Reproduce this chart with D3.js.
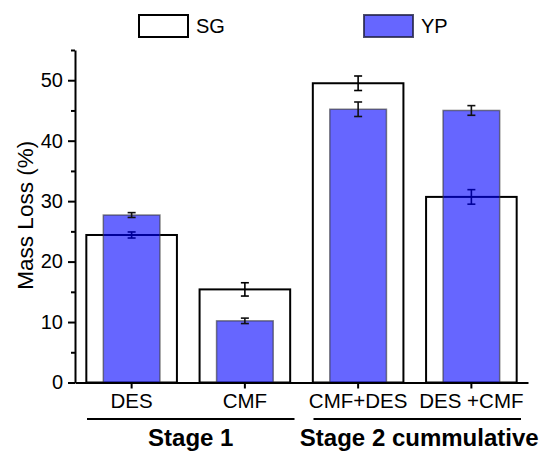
<!DOCTYPE html>
<html>
<head>
<meta charset="utf-8">
<script src="https://cdn.jsdelivr.net/npm/d3@7"></script>
<style>
  body { margin: 0; background: #fff; }
  text { font-family: "Liberation Sans", Arial, sans-serif; }
</style>
</head>
<body>
<svg id="chart" width="540" height="451"></svg>
<script>
// Values
const categories = ["DES", "CMF", "CMF+DES", "DES +CMF"];
const sgValues = [24.4, 15.4, 49.5, 30.7];
const sgErrors = [0.5, 1.1, 1.2, 1.2];
const ypValues = [27.7, 10.2, 45.2, 45.0];
const ypErrors = [0.4, 0.45, 1.2, 0.8];
const yTicks = [0, 10, 20, 30, 40, 50];
const yMinorTicks = [5, 15, 25, 35, 45, 55];
const groupLabels = ["Stage 1", "Stage 2 cummulative"];
const groupRanges = [[0, 1], [2, 3]];
const seriesNames = ["SG", "YP"];

const ypFill = "#0000ff";

const svg = d3.select("#chart");

// plot area ("top" is taken by window, so use plot* names)
const plotLeft = 75, plotRight = 528, plotTop = 50, plotBottom = 382.5;

const x = d3.scaleBand()
  .domain(categories)
  .range([plotLeft, plotRight])
  .padding(0);

const y = d3.scaleLinear()
  .domain([0, 55])
  .range([plotBottom, plotTop]);

const bw = x.bandwidth();

// SG bars (white, black outline) drawn first
svg.append("g").selectAll("rect")
  .data(categories)
  .enter()
  .append("rect")
  .attr("x", d => x(d) + bw * 0.1)
  .attr("width", bw * 0.8)
  .attr("y", (d, i) => y(sgValues[i]))
  .attr("height", (d, i) => y(0) - y(sgValues[i]))
  .attr("fill", "#fff")
  .attr("stroke", "#000")
  .attr("stroke-width", 2);

// error bars helper
const drawErrors = (values, errors, color) => {
  const g = svg.append("g")
    .attr("stroke", color)
    .attr("stroke-width", 1.6)
    .attr("fill", "none");
  categories.forEach((c, i) => {
    const cx = x(c) + bw / 2;
    const hi = y(values[i] + errors[i]);
    const lo = y(values[i] - errors[i]);
    g.append("line").attr("x1", cx).attr("x2", cx).attr("y1", hi).attr("y2", lo);
    g.append("line").attr("x1", cx - 4).attr("x2", cx + 4).attr("y1", hi).attr("y2", hi);
    g.append("line").attr("x1", cx - 4).attr("x2", cx + 4).attr("y1", lo).attr("y2", lo);
  });
};

drawErrors(sgValues, sgErrors, "#000");

// YP bars, semi transparent blue on top
svg.append("g").selectAll("rect")
  .data(categories)
  .enter()
  .append("rect")
  .attr("x", d => x(d) + bw * 0.25)
  .attr("width", bw * 0.5)
  .attr("y", (d, i) => y(ypValues[i]))
  .attr("height", (d, i) => y(0) - y(ypValues[i]))
  .attr("fill", ypFill)
  .attr("fill-opacity", 0.6)
  .attr("stroke", "#333")
  .attr("stroke-opacity", 0.6)
  .attr("stroke-width", 1.5);

drawErrors(ypValues, ypErrors, "#111");

// y axis
const yAxis = svg.append("g")
  .attr("transform", `translate(${plotLeft},0)`)
  .call(d3.axisLeft(y).tickValues(yTicks).tickSize(7).tickSizeOuter(0).tickPadding(5));
yAxis.select(".domain").attr("stroke-width", 2);
yAxis.selectAll(".tick line").attr("stroke-width", 2);
yAxis.selectAll(".tick text")
  .style("font-size", "20px")
  .attr("fill", "#000");

svg.append("g")
  .attr("transform", `translate(${plotLeft},0)`)
  .call(d3.axisLeft(y).tickValues(yMinorTicks).tickSize(4).tickFormat(""))
  .call(g => g.select(".domain").remove())
  .selectAll(".tick line").attr("stroke-width", 2);

// x axis
const xAxis = svg.append("g")
  .attr("transform", `translate(0,${plotBottom})`)
  .call(d3.axisBottom(x).tickSize(6).tickSizeOuter(0).tickPadding(5));
xAxis.select(".domain").attr("stroke-width", 2);
xAxis.selectAll(".tick line").attr("stroke-width", 2);
xAxis.selectAll(".tick text")
  .style("font-size", "20.5px")
  .attr("fill", "#000");

// y axis title
svg.append("text")
  .attr("transform", `translate(33,${(plotTop + plotBottom) / 2 - 1}) rotate(-90)`)
  .attr("text-anchor", "middle")
  .style("font-size", "22.5px")
  .text("Mass Loss (%)");

// stage group lines + labels
groupRanges.forEach((r, i) => {
  const x1 = x(categories[r[0]]) + 12;
  const x2 = x(categories[r[1]]) + bw - 7;
  svg.append("line")
    .attr("x1", x1).attr("x2", x2)
    .attr("y1", 419).attr("y2", 419)
    .attr("stroke", "#000")
    .attr("stroke-width", 2);
  svg.append("text")
    .attr("x", (x1 + x2) / 2 + (i === 1 ? 2 : 0))
    .attr("y", 446)
    .attr("text-anchor", "middle")
    .style("font-size", "24px")
    .style("font-weight", "bold")
    .text(groupLabels[i]);
});

// legend
const legendX = [139, 364];
const legend = svg.append("g");
seriesNames.forEach((name, i) => {
  legend.append("rect")
    .attr("x", legendX[i]).attr("y", 15)
    .attr("width", 49).attr("height", 22)
    .attr("fill", i === 0 ? "#fff" : ypFill)
    .attr("fill-opacity", i === 0 ? 1 : 0.6)
    .attr("stroke", i === 0 ? "#000" : "#222244")
    .attr("stroke-opacity", i === 0 ? 1 : 0.8)
    .attr("stroke-width", 2);
  legend.append("text")
    .attr("x", legendX[i] + 57)
    .attr("y", 33)
    .style("font-size", "20px")
    .text(name);
});
</script>
</body>
</html>
